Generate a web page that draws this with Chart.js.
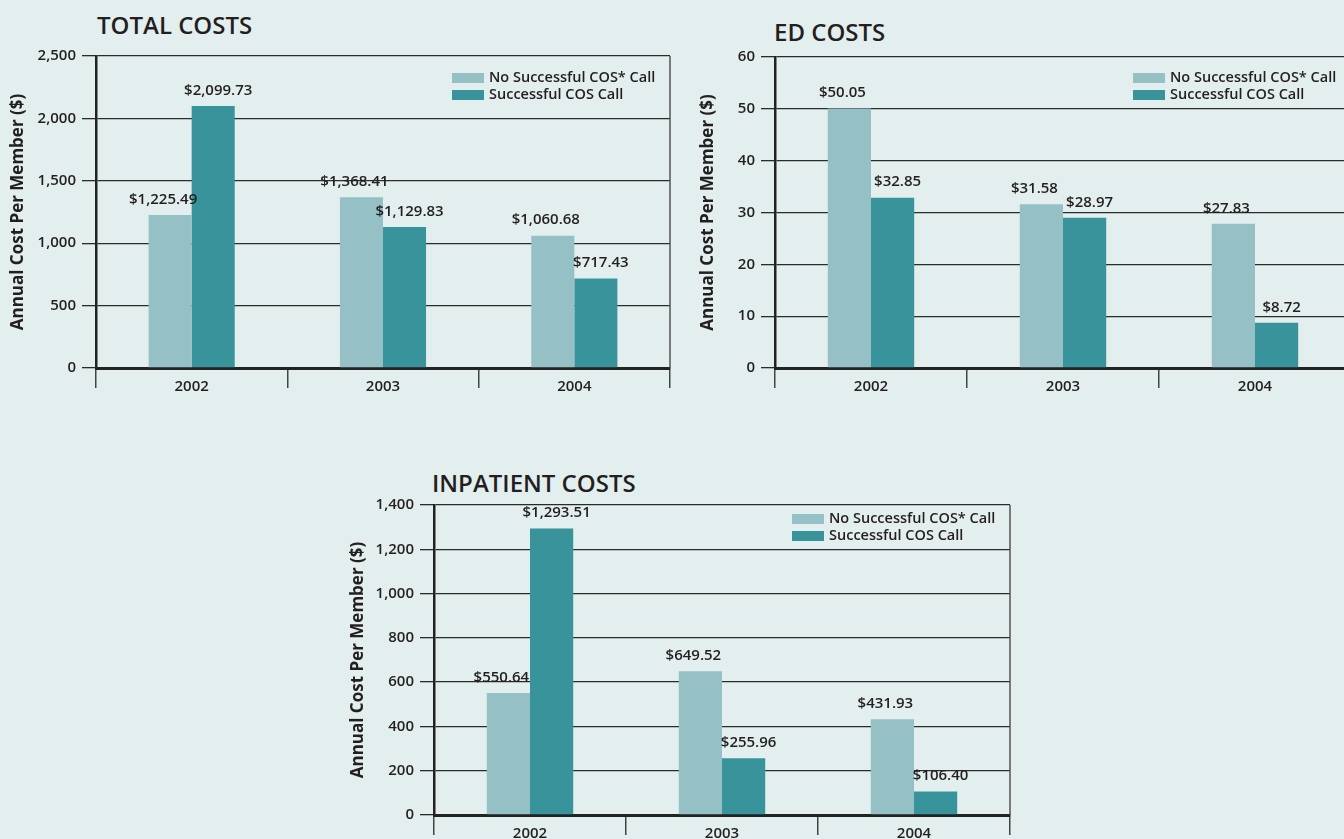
<!DOCTYPE html>
<html>
<head>
<meta charset="utf-8">
<script src="https://cdn.jsdelivr.net/npm/chart.js@4.4.1/dist/chart.umd.min.js"></script>
<style>
  html, body { margin: 0; padding: 0; overflow: hidden; }
  body { width: 1344px; height: 839px; background: #e3eeee; position: relative; font-family: "Open Sans", sans-serif; }
  .title { position: absolute; font-size: 24px; font-weight: 600; color: #231f20; line-height: 1; white-space: nowrap; }
  canvas { position: absolute; }
</style>
</head>
<body>
<div class="title" style="left:97px; top:13px;">TOTAL COSTS</div>
<div class="title" style="left:774px; top:20px;">ED COSTS</div>
<div class="title" style="left:432px; top:471px;">INPATIENT COSTS</div>
<canvas id="totalChart" width="690" height="400" style="left:0; top:0;"></canvas>
<canvas id="edChart" width="670" height="400" style="left:690px; top:0;"></canvas>
<canvas id="inpatientChart" width="690" height="389" style="left:340px; top:450px;"></canvas>
<script>
// Data
const categories = ["2002", "2003", "2004"];
const seriesNames = ["No Successful COS* Call", "Successful COS Call"];

const totalNoCall = [1225.49, 1368.41, 1060.68];
const totalCall = [2099.73, 1129.83, 717.43];

const edNoCall = [50.05, 31.58, 27.83];
const edCall = [32.85, 28.97, 8.72];

const inpatientNoCall = [550.64, 649.52, 431.93];
const inpatientCall = [1293.51, 255.96, 106.4];

// axis max / step for each chart
const totalAxis = [2500, 500];
const edAxis = [60, 10];
const inpatientAxis = [1400, 200];

const LIGHT = "#95c0c5";
const DARK = "#38939a";
const INK = "#231f20";
const FONT = "'Open Sans', sans-serif";

// value labels above the bars
const barLabels = {
  id: "barLabels",
  afterDatasetsDraw(chart) {
    const ctx = chart.ctx;
    const shift = [-7, 5];
    ctx.save();
    ctx.font = "600 15px " + FONT;
    ctx.fillStyle = INK;
    ctx.textAlign = "center";
    ctx.textBaseline = "bottom";
    chart.data.datasets.forEach((ds, i) => {
      chart.getDatasetMeta(i).data.forEach((bar, j) => {
        const txt = "$" + ds.data[j].toLocaleString("en-US", { minimumFractionDigits: 2, maximumFractionDigits: 2 });
        ctx.fillText(txt, bar.x + shift[i], bar.y - 8);
      });
    });
    ctx.restore();
  },
};

// legend drawn inside the plot, top right
const innerLegend = {
  id: "innerLegend",
  afterDraw(chart, args, opts) {
    const ctx = chart.ctx;
    const area = chart.chartArea;
    const x = area.right - 218;
    ctx.save();
    ctx.font = "600 14.5px " + FONT;
    ctx.textBaseline = "middle";
    chart.data.datasets.forEach((ds, i) => {
      const y = area.top + opts.top + i * 17;
      ctx.fillStyle = ds.backgroundColor;
      ctx.fillRect(x, y, 32, 10);
      ctx.fillStyle = INK;
      ctx.fillText(ds.label, x + 37, y + 5);
    });
    ctx.restore();
  },
};

// right edge of the plot frame
const rightFrame = {
  id: "rightFrame",
  beforeDatasetsDraw(chart) {
    const ctx = chart.ctx;
    const a = chart.chartArea;
    ctx.save();
    ctx.strokeStyle = "#555";
    ctx.lineWidth = 1.5;
    ctx.beginPath();
    ctx.moveTo(a.right, a.top);
    ctx.lineTo(a.right, a.bottom);
    ctx.stroke();
    ctx.restore();
  },
};

function makeChart(id, noCall, call, axis, layout) {
  const tickFont = { family: FONT, size: 15, weight: "600" };
  return new Chart(document.getElementById(id), {
    type: "bar",
    data: {
      labels: categories,
      datasets: [
        { label: seriesNames[0], data: noCall, backgroundColor: LIGHT },
        { label: seriesNames[1], data: call, backgroundColor: DARK },
      ],
    },
    options: {
      responsive: false,
      animation: false,
      categoryPercentage: 0.45,
      barPercentage: 1,
      layout: {
        padding: { top: layout.top, right: layout.right, left: 0, bottom: 0 },
      },
      scales: {
        x: {
          afterFit: function (scale) {
            scale.height = layout.xHeight;
          },
          grid: {
            offset: true,
            drawOnChartArea: false,
            tickLength: 20,
            color: "#444",
            lineWidth: 1.5,
          },
          border: { color: "#222", width: 3 },
          ticks: { font: tickFont, color: INK, padding: -10 },
        },
        y: {
          min: 0,
          max: axis[0],
          afterFit: function (scale) {
            scale.width = layout.yWidth;
          },
          grid: { color: "#2b2b2b", lineWidth: 1.3, tickLength: 14 },
          border: { color: "#222", width: 2.5 },
          ticks: {
            stepSize: axis[1],
            font: tickFont,
            color: INK,
            padding: 6,
            callback: function (value) {
              return value.toLocaleString("en-US");
            },
          },
          title: {
            display: true,
            text: "Annual Cost Per Member ($)",
            font: { family: FONT, size: 17, weight: "bold" },
            color: INK,
            padding: { top: 8, bottom: 0 },
          },
        },
      },
      plugins: {
        legend: { display: false },
        tooltip: { enabled: false },
        innerLegend: { top: layout.legendTop },
      },
    },
    plugins: [rightFrame, barLabels, innerLegend],
  });
}

makeChart("totalChart", totalNoCall, totalCall, totalAxis, {
  top: 56, right: 20, xHeight: 32, yWidth: 96, legendTop: 17,
});
makeChart("edChart", edNoCall, edCall, edAxis, {
  top: 57, right: 9, xHeight: 32, yWidth: 85, legendTop: 16,
});
makeChart("inpatientChart", inpatientNoCall, inpatientCall, inpatientAxis, {
  top: 55, right: 20, xHeight: 24, yWidth: 94, legendTop: 9,
});
</script>
</body>
</html>
